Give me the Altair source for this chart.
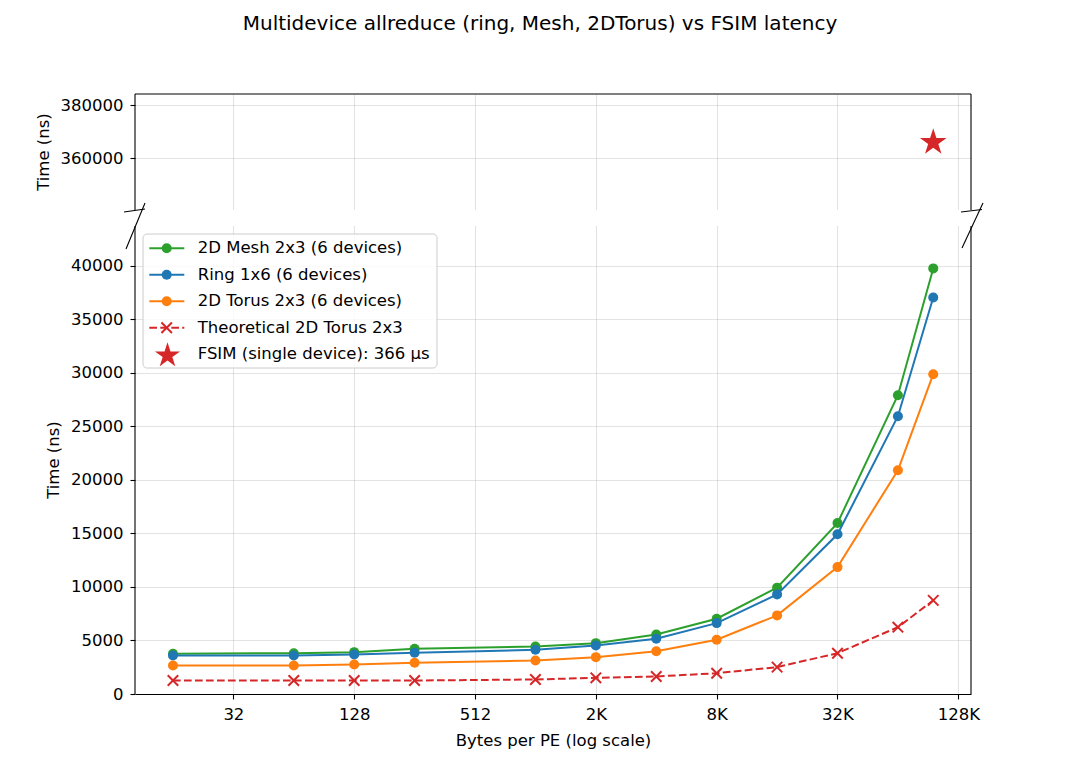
import altair as alt
import pandas as pd

# ---------------- data ----------------
sizes = [16, 64, 128, 256, 1024, 2048, 4096, 8192, 16384, 32768, 65536, 98304]
mesh = [3760, 3810, 3910, 4220, 4440, 4750, 5560, 7030, 9930, 15960, 27900, 39740]
ring = [3600, 3600, 3690, 3850, 4130, 4530, 5160, 6620, 9300, 14910, 25940, 37030]
torus = [2660, 2660, 2760, 2920, 3130, 3440, 4000, 5070, 7340, 11850, 20890, 29860]
theory = [1260, 1260, 1260, 1260, 1355, 1510, 1640, 1940, 2510, 3810, 6240, 8740]
fsim_bytes = [98304]
fsim_ns = [366000]

series_names = ["2D Mesh 2x3 (6 devices)", "Ring 1x6 (6 devices)",
                "2D Torus 2x3 (6 devices)", "Theoretical 2D Torus 2x3"]
series_vals = [mesh, ring, torus, theory]
series_colors = ["#2ca02c", "#1f77b4", "#ff7f0e", "#d62728"]
fsim_label = "FSIM (single device): 366 µs"
fsim_color = "#d62728"

x_tick_values = [32, 128, 512, 2048, 8192, 32768, 131072]
x_tick_labels = ["32", "128", "512", "2K", "8K", "32K", "128K"]
y_tick_values = [0, 5000, 10000, 15000, 20000, 25000, 30000, 35000, 40000,
                 360000, 380000]

title_text = "Multidevice allreduce (ring, Mesh, 2DTorus) vs FSIM latency"
x_title = "Bytes per PE (log scale)"
y_title = "Time (ns)"

# ---------------- layout ----------------
W = 836
H_TOP = 116          # upper (broken-axis) panel
GAP = 16
H_BOT = 468          # lower panel
H = H_TOP + GAP + H_BOT
BOT0 = H_TOP + GAP   # top of lower panel
FONT = "DejaVu Sans"
FS = 16.5
X_DOMAIN = [10.35, 151600]
Y_DOMAIN = [0, 43700, 340380, 384300]   # piecewise: lower panel, then upper panel
Y_RANGE = [H, BOT0, H_TOP, 0]

STAR = ("M0,-1L0.2245,-0.309L0.951,-0.309L0.3633,0.118L0.5878,0.809L0,0.382"
        "L-0.5878,0.809L-0.3633,0.118L-0.951,-0.309L-0.2245,-0.309Z")
XMARK = "M-1,-1L1,1M-1,1L1,-1"

label_expr = "''"
for v, l in reversed(list(zip(x_tick_values, x_tick_labels))):
    label_expr = f"datum.value == {v} ? '{l}' : ({label_expr})"

rows = []
for name, vals in zip(series_names, series_vals):
    for s, v in zip(sizes, vals):
        rows.append({"series": name, "bytes": s, "ns": v})
df = pd.DataFrame(rows)
fsim_df = pd.DataFrame({"bytes": fsim_bytes, "ns": fsim_ns})
one_df = pd.DataFrame({"a": [1]})


def rule(x, y, x2=None, y2=None, color="black", width=1.1, dash=None):
    kw = dict(color=color, strokeWidth=width)
    if dash:
        kw["strokeDash"] = dash
    enc = dict(x=alt.value(x), y=alt.value(y))
    if x2 is not None:
        enc["x2"] = alt.value(x2)
    if y2 is not None:
        enc["y2"] = alt.value(y2)
    return alt.Chart(one_df).mark_rule(**kw).encode(**enc)


def text(t, x, y, angle=0, align="left", size=FS):
    return alt.Chart(one_df).mark_text(
        text=t, align=align, baseline="middle", font=FONT, fontSize=size,
        color="black", angle=angle).encode(x=alt.value(x), y=alt.value(y))


x_enc = alt.X("bytes:Q",
              scale=alt.Scale(type="log", base=2, domain=X_DOMAIN, nice=False),
              axis=alt.Axis(values=x_tick_values, labelExpr=label_expr, title=x_title,
                            grid=True, labelPadding=7.5, titlePadding=9))
y_enc = alt.Y("ns:Q",
              scale=alt.Scale(domain=Y_DOMAIN, range=Y_RANGE, nice=False, zero=False),
              axis=alt.Axis(values=y_tick_values, format="d", title=None, grid=True,
                            domain=False, labelPadding=7))

layers = []
# blank the gap between the two panels (hides the grid there)
layers.append(alt.Chart(one_df).mark_rect(fill="white", strokeWidth=0).encode(
    x=alt.value(0), x2=alt.value(W), y=alt.value(H_TOP), y2=alt.value(BOT0)))

for name, color in zip(series_names, series_colors):
    base = alt.Chart(df).transform_filter(alt.datum.series == name)
    dashed = name.startswith("Theoretical")
    kw = dict(color=color, strokeWidth=2)
    if dashed:
        kw["strokeDash"] = [7.7, 3.3]
    layers.append(base.mark_line(**kw).encode(x=x_enc, y=y_enc))
    if dashed:
        layers.append(base.mark_point(shape=XMARK, filled=False, color=color,
                                      strokeWidth=2, size=110,
                                      opacity=1).encode(x=x_enc, y=y_enc))
    else:
        layers.append(base.mark_point(shape="circle", filled=True, color=color, size=100,
                                      opacity=1).encode(x=x_enc, y=y_enc))

layers.append(alt.Chart(fsim_df).mark_point(shape=STAR, filled=True, color=fsim_color,
                                            size=784, opacity=1).encode(x=x_enc, y=y_enc))

# spines
layers += [
    rule(0, 0, x2=W),                 # top of upper panel
    rule(0, 0, y2=H_TOP),             # left, upper
    rule(W, 0, y2=H_TOP),             # right, upper
    rule(0, BOT0, y2=H),              # left, lower
    rule(W, BOT0, y2=H),              # right, lower
]

# chart title and y-axis titles (one per panel)
layers.append(text(title_text, W / 2 - 13, -70, align="center", size=20))
layers.append(text(y_title, -91.5, H_TOP / 2, angle=270, align="center"))
layers.append(text(y_title, -81, BOT0 + H_BOT / 2, angle=270, align="center"))

# legend
layers.append(
    alt.Chart(one_df).mark_rect(fill="white", fillOpacity=0.8, stroke="#cccccc",
                                strokeWidth=1, cornerRadius=4)
    .encode(x=alt.value(8), x2=alt.value(302), y=alt.value(BOT0 + 8),
            y2=alt.value(BOT0 + 142))
)
leg_names = series_names + [fsim_label]
leg_colors = series_colors + [fsim_color]
for i, (name, color) in enumerate(zip(leg_names, leg_colors)):
    cy = BOT0 + 22.3 + i * 26.5
    if i < 4:
        dashed = name.startswith("Theoretical")
        layers.append(rule(14.3, cy, x2=49.3, color=color, width=2,
                           dash=[7.7, 3.3] if dashed else None))
        if dashed:
            layers.append(alt.Chart(one_df).mark_point(
                shape=XMARK, filled=False, color=color,
                strokeWidth=2, size=110, opacity=1)
                .encode(x=alt.value(31.7), y=alt.value(cy)))
        else:
            layers.append(alt.Chart(one_df).mark_point(
                shape="circle", filled=True, color=color, size=100, opacity=1)
                .encode(x=alt.value(31.7), y=alt.value(cy)))
    else:
        layers.append(alt.Chart(one_df).mark_point(
            shape=STAR, filled=True, color=color, size=700, opacity=1)
            .encode(x=alt.value(32.5), y=alt.value(cy + 1.2)))
    layers.append(text(name, 62.7, cy))

# broken-axis marks
layers += [
    rule(-11, H_TOP + 2, x2=10, y2=H_TOP - 1),
    rule(W - 10, H_TOP + 2, x2=W + 11, y2=H_TOP - 0.5),
    rule(10, BOT0 - 23, x2=-9, y2=BOT0 + 23),
    rule(W + 12, BOT0 - 23, x2=W - 9, y2=BOT0 + 22),
]

chart = alt.layer(*layers).properties(
    width=W, height=H,
    padding={"left": 27, "top": 6, "right": 5, "bottom": 5},
).configure_view(stroke=None).configure_axis(
    labelFont=FONT, labelFontSize=FS, titleFont=FONT, titleFontSize=FS,
    titleFontWeight="normal", labelColor="black", titleColor="black",
    tickColor="black", domainColor="black", tickSize=5, tickWidth=1.1,
    domainWidth=1.1, gridColor="#b0b0b0", gridOpacity=0.35, gridWidth=1.1,
)

chart.save("out.html", embed_options={"renderer": "svg", "actions": False})
